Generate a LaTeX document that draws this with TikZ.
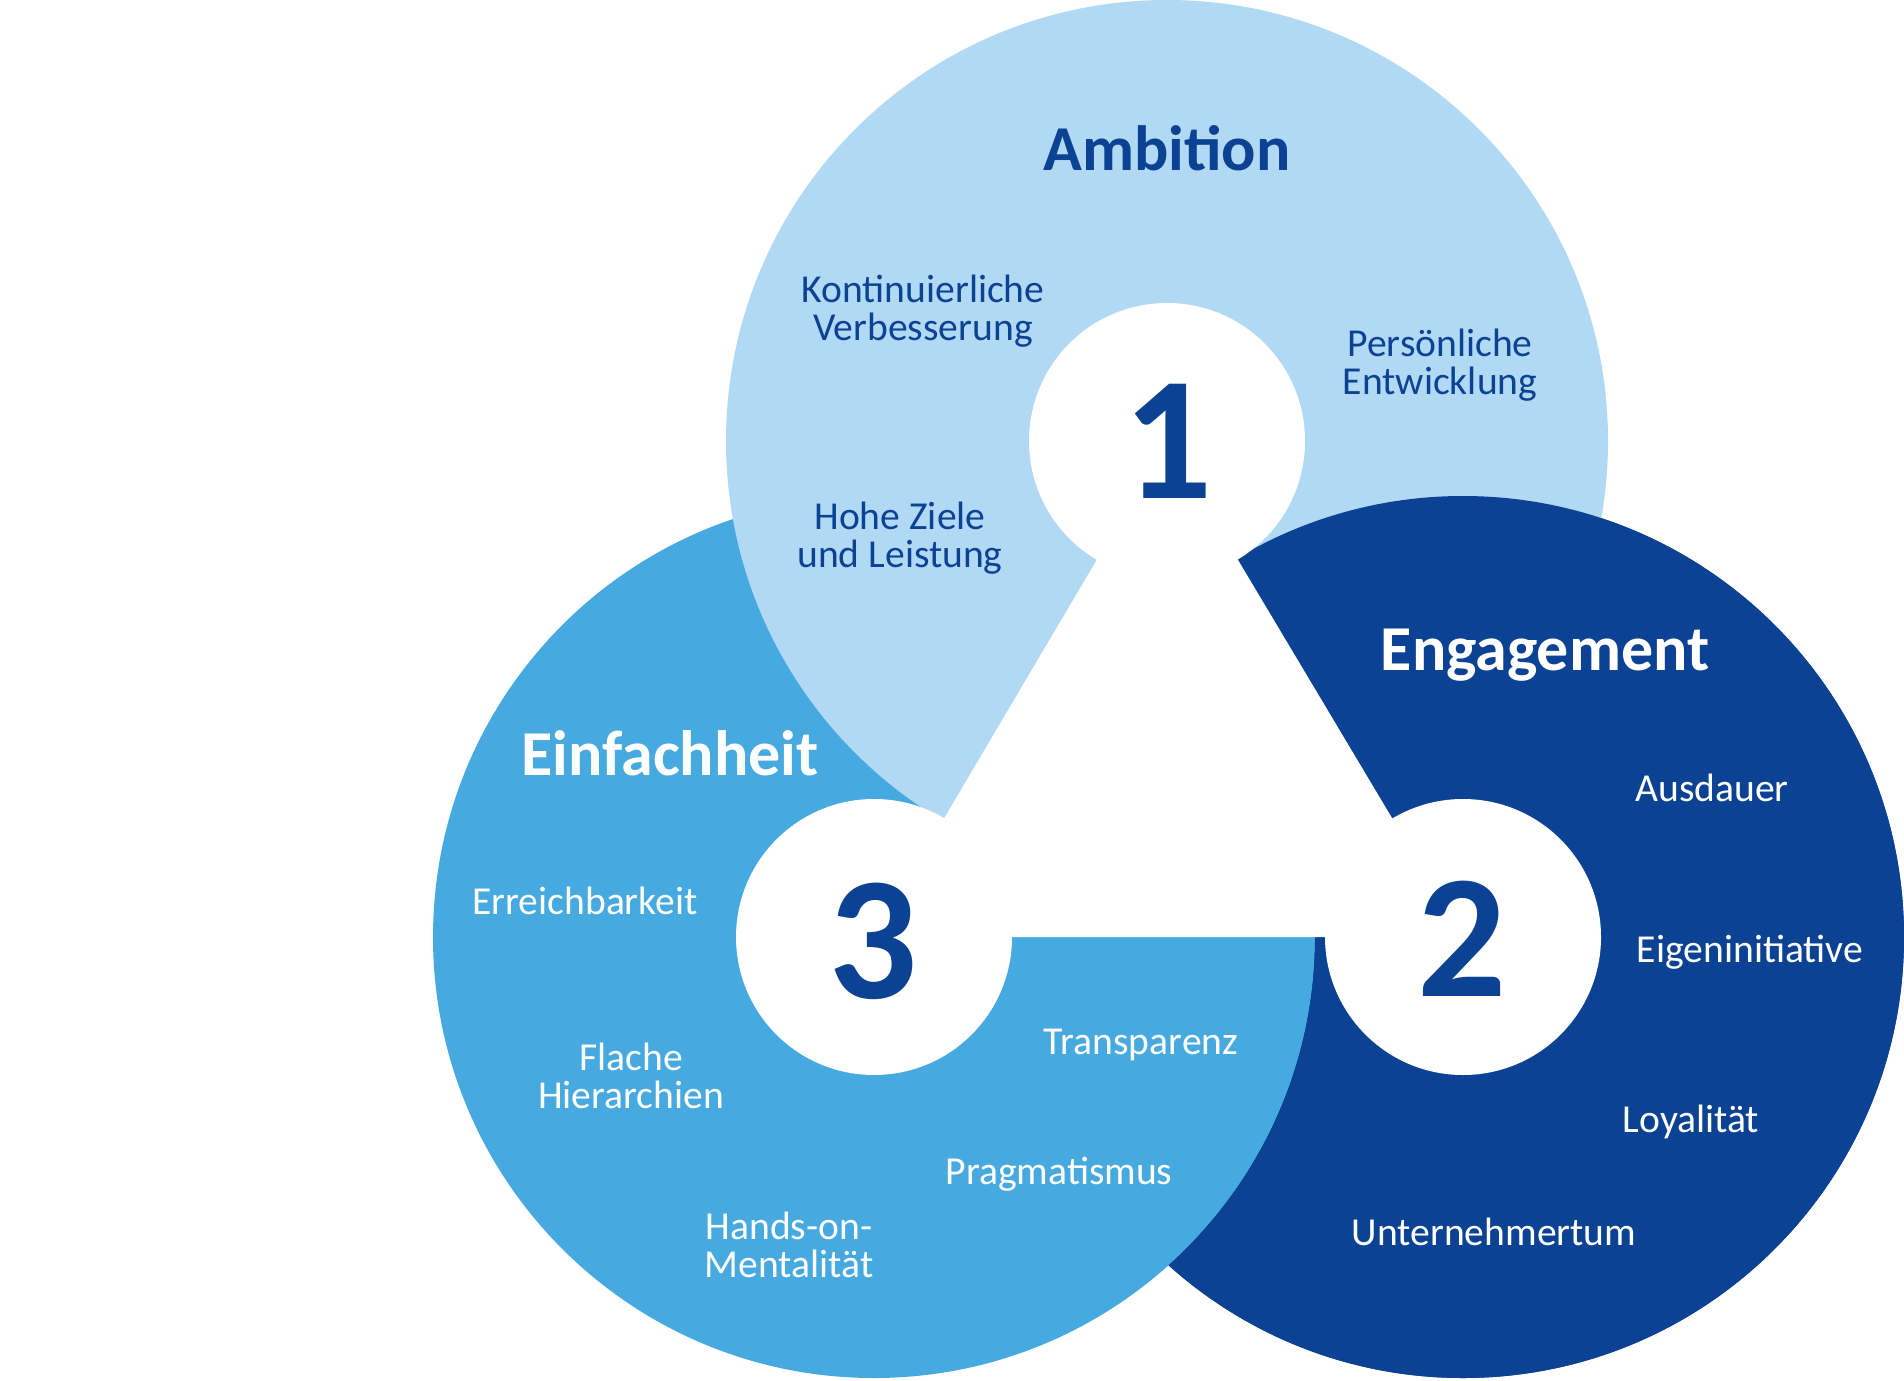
\documentclass[tikz,border=0pt]{standalone}
\usepackage{fontspec}
\setmainfont{Carlito}
\definecolor{lightb}{HTML}{B1D9F4}
\definecolor{midb}{HTML}{46AAE0}
\definecolor{darkb}{HTML}{0B4294}
\begin{document}
\begin{tikzpicture}[x=0.5pt,y=-0.5pt,
  item/.style={font=\fontsize{19.8}{19}\selectfont, align=center, anchor=base, inner sep=0pt},
  head/.style={font=\fontsize{32}{36}\selectfont\bfseries, anchor=base, inner sep=0pt},
  num/.style={font=\fontsize{88}{90}\selectfont\bfseries, text=darkb, anchor=base, inner sep=0pt}]
\useasboundingbox (0,0) rectangle (1904,1380);
\fill[white] (0,0) rectangle (1904,1380);
\coordinate (c1) at (1167,441);
\coordinate (c2) at (1463,937);
\coordinate (c3) at (874,937);
% big circles (cyclic overlap)
\fill[darkb] (c2) circle (441);
\fill[midb] (c3) circle (441);
\fill[lightb] (c1) circle (441);
\begin{scope}[even odd rule]
  \clip (-10,-10) rectangle (1914,1390) (c3) circle (441);
  \fill[darkb] (c2) circle (441);
\end{scope}
% white centre
\fill[white] (c1) -- (c2) -- (c3) -- cycle;
\fill[white] (c1) circle (138);
\fill[white] (c2) circle (138);
\fill[white] (c3) circle (138);
% numbers
\node[num] (n1) at (1168,498) {1};
\node[num] (n2) at (1462,996) {2};
\node[num] (n3) at (873,998) {3};
% headings
\node[head, text=darkb] (amb) at (1167,171) {Ambition};
\node[head, text=white] (eng) at (1545,670) {Engagement};
\node[head, text=white] (einf) at (670,775) {Einfachheit};
% ambition items
\node[item, text=darkb] (kont) at (923,340) {Kontinuierliche\\Verbesserung};
\node[item, text=darkb] (pers) at (1440,394) {Persönliche\\Entwicklung};
\node[item, text=darkb] (hohe) at (900,567) {Hohe Ziele\\und Leistung};
% engagement items
\node[item, text=white] (aus) at (1712,801) {Ausdauer};
\node[item, text=white] (eigen) at (1750,962) {Eigeninitiative};
\node[item, text=white] (loy) at (1691,1132) {Loyalität};
\node[item, text=white] (unt) at (1494,1245) {Unternehmertum};
% einfachheit items
\node[item, text=white] (erre) at (585,914) {Erreichbarkeit};
\node[item, text=white] (flach) at (631,1108) {Flache\\Hierarchien};
\node[item, text=white] (trans) at (1141,1054) {Transparenz};
\node[item, text=white] (prag) at (1059,1184) {Pragmatismus};
\node[item, text=white] (hands) at (789,1277) {Hands-on-\\Mentalität};
\end{tikzpicture}
\end{document}
